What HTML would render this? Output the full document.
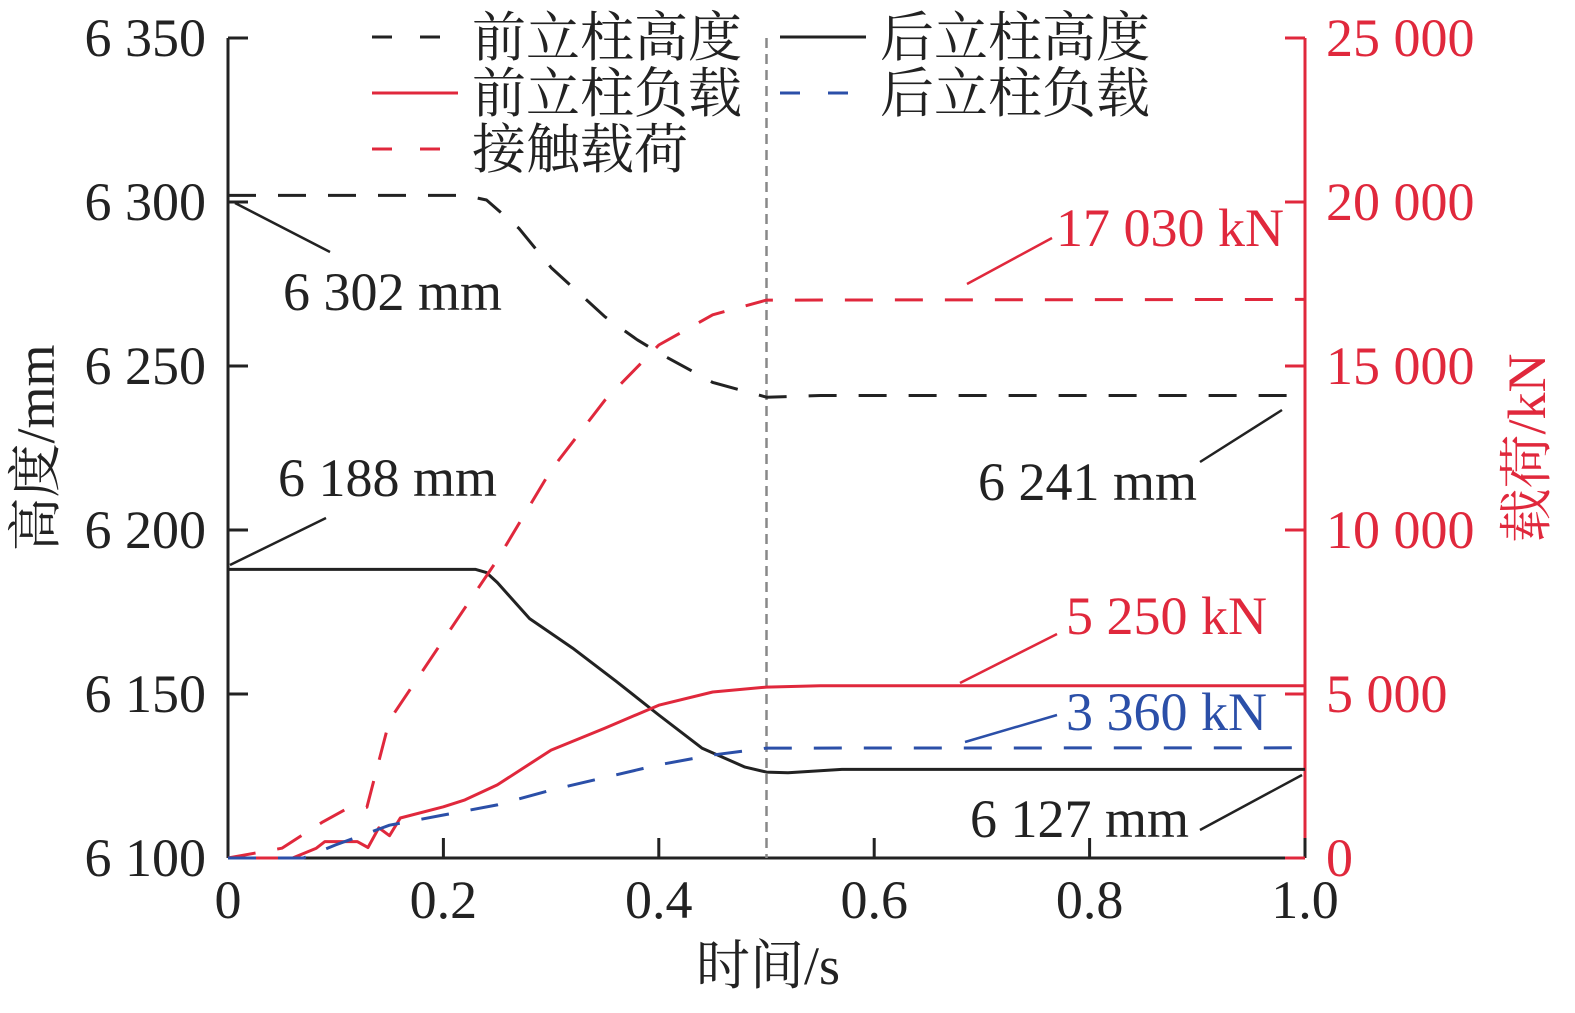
<!DOCTYPE html>
<html><head><meta charset="utf-8"><style>
body{margin:0;background:#fff}
svg text{font-family:"Liberation Serif","Noto Serif CJK SC",serif}
</style></head><body>
<svg id="c" width="1575" height="1008" viewBox="0 0 1575 1008" xmlns="http://www.w3.org/2000/svg"></svg>
<script>
const xTicks=[0,0.2,0.4,0.6,0.8,1.0];
const xTickLabels=["0","0.2","0.4","0.6","0.8","1.0"];
const yTicks=[6100,6150,6200,6250,6300,6350];
const yTickLabels=["6 100","6 150","6 200","6 250","6 300","6 350"];
const y2Ticks=[0,5000,10000,15000,20000,25000];
const y2TickLabels=["0","5 000","10 000","15 000","20 000","25 000"];
const tFrontH=[0,0.22,0.24,0.27,0.3,0.35,0.38,0.4,0.45,0.5,0.55,1.0];
const frontHeight=[6302,6302,6300.6,6292,6280,6265,6258,6254,6245,6240.5,6241,6241];
const tRearH=[0,0.23,0.24,0.25,0.28,0.32,0.36,0.4,0.44,0.48,0.5,0.52,0.57,1.0];
const rearHeight=[6188,6188,6187,6184,6173,6164,6154,6143.6,6133.5,6127.7,6126.2,6126,6127,6127];
const tContact=[0,0.05,0.088,0.11,0.129,0.15,0.2,0.25,0.3,0.35,0.4,0.45,0.5,1.0];
const contactLoad=[0,300,1100,1500,1550,4200,6650,9090,11830,13960,15640,16560,17010,17030];
const tFrontL=[0,0.06,0.082,0.09,0.12,0.13,0.14,0.15,0.16,0.2,0.22,0.25,0.3,0.35,0.4,0.45,0.5,0.55,1.0];
const frontLoad=[0,0,300,500,500,320,920,680,1220,1560,1770,2230,3290,3960,4660,5060,5210,5250,5250];
const tRearL=[0,0.07,0.1,0.15,0.2,0.25,0.3,0.4,0.45,0.5,1.0];
const rearLoad=[0,0,400,1000,1310,1620,2070,2840,3140,3350,3360];

const X0=228,X1=1305,YT=38,YB=858;
const sx=t=>X0+(X1-X0)*t;
const sy=v=>YB-(v-6100)/250*(YB-YT);
const sy2=v=>YB-v/25000*(YB-YT);
const svg=document.getElementById('c');
const NS="http://www.w3.org/2000/svg";
const FS=54;
function mk(tag,attrs,txt){const e=document.createElementNS(NS,tag);for(const k in attrs)e.setAttribute(k,attrs[k]);if(txt!==undefined)e.textContent=txt;svg.appendChild(e);return e;}

let e=mk('line',{x1:X0,y1:YT,x2:X0,y2:YB,stroke:'#222','stroke-width':3});

e=mk('line',{x1:X0,y1:YB,x2:X1,y2:YB,stroke:'#222','stroke-width':3});

e=mk('line',{x1:X1,y1:YT,x2:X1,y2:YB,stroke:'#e0283c','stroke-width':3});

e=mk('line',{x1:sx(0.5),y1:YT,x2:sx(0.5),y2:YB,stroke:'#888','stroke-width':2.5,'stroke-dasharray':'10 6'});


xTicks.forEach((t,i)=>{
  let l=mk('line',{x1:sx(t),y1:YB,x2:sx(t),y2:YB-20,stroke:'#222','stroke-width':3});
  
  let tx=mk('text',{x:sx(t),y:918,'font-size':FS,'text-anchor':'middle',fill:'#222'},xTickLabels[i]);
  
});
yTicks.forEach((v,i)=>{
  let l=mk('line',{x1:X0,y1:sy(v),x2:X0+20,y2:sy(v),stroke:'#222','stroke-width':3});
  
  let tx=mk('text',{x:206,y:sy(v)+18,'font-size':FS,'text-anchor':'end',fill:'#222'},yTickLabels[i]);
  
});
y2Ticks.forEach((v,i)=>{
  let l=mk('line',{x1:X1-20,y1:sy2(v),x2:X1,y2:sy2(v),stroke:'#e0283c','stroke-width':3});
  
  let tx=mk('text',{x:1326,y:sy2(v)+18,'font-size':FS,'text-anchor':'start',fill:'#e0283c'},y2TickLabels[i]);
  
});
e=mk('text',{x:768,y:984,'font-size':FS,'text-anchor':'middle',fill:'#222'},'时间/s');

e=mk('text',{x:0,y:0,'font-size':FS,'text-anchor':'middle',fill:'#222',transform:'translate(54,448) rotate(-90)'},'高度/mm');

e=mk('text',{x:0,y:0,'font-size':FS,'text-anchor':'middle',fill:'#e0283c',transform:'translate(1545,448) rotate(-90)'},'载荷/kN');


function path(ts,vs,f,color,dash,name){
  const d=ts.map((t,i)=>(i?'L':'M')+sx(t).toFixed(1)+','+f(vs[i]).toFixed(1)).join(' ');
  const p=mk('path',{d:d,fill:'none',stroke:color,'stroke-width':3,'stroke-dasharray':dash||'none','stroke-linejoin':'round'});
  
}
path(tFrontH,frontHeight,sy,'#222','28 22','front-height-line');
path(tRearH,rearHeight,sy,'#222','','rear-height-line');
path(tContact,contactLoad,sy2,'#e0283c','28 22','contact-load-line');
path(tFrontL,frontLoad,sy2,'#e0283c','','front-load-line');
path(tRearL,rearLoad,sy2,'#2b4fa8','28 22','rear-load-line');

function ann(x1,y1,x2,y2,tx,ty,txt,color,name){
  let l=mk('line',{x1:x1,y1:y1,x2:x2,y2:y2,stroke:color,'stroke-width':2.5});
  
  let t=mk('text',{x:tx,y:ty,'font-size':FS,fill:color},txt);
  
}
ann(235,203,330,252,283,310,'6 302 mm','#222','front-height-annotation');
ann(230,565,326,518,278,496,'6 188 mm','#222','rear-height-annotation');
ann(1200,462,1282,410,978,500,'6 241 mm','#222','front-final-annotation');
ann(1200,830,1302,775,970,837,'6 127 mm','#222','rear-final-annotation');
ann(967,284,1052,238,1056,246,'17 030 kN','#e0283c','contact-load-annotation');
ann(960,683,1057,634,1066,634,'5 250 kN','#e0283c','front-load-annotation');
ann(965,742,1057,715,1066,730,'3 360 kN','#2b4fa8','rear-load-annotation');

function leg(x,y,color,dash,txt,name){
  let l=mk('line',{x1:x,y1:y,x2:x+86,y2:y,stroke:color,'stroke-width':3,'stroke-dasharray':dash||'none'});
  
  let t=mk('text',{x:x+100,y:y+19,'font-size':FS,fill:'#222'},txt);
  
}
leg(372,37,'#222','20 28','前立柱高度','legend-front-height');
leg(780,37,'#222','','后立柱高度','legend-rear-height');
leg(372,93,'#e0283c','','前立柱负载','legend-front-load');
leg(780,93,'#2b4fa8','20 28','后立柱负载','legend-rear-load');
leg(372,149,'#e0283c','20 28','接触载荷','legend-contact-load');
</script>
</body></html>
